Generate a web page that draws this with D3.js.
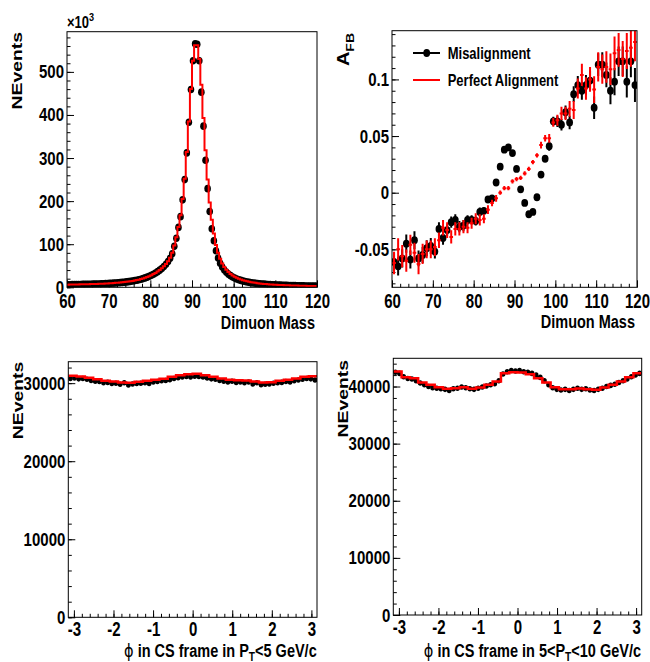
<!DOCTYPE html>
<html>
<head>
<meta charset="utf-8">
<script src="https://cdn.jsdelivr.net/npm/d3@7"></script>
<style>
body { margin: 0; background: #fff; }
text { font-family: "Liberation Sans", Arial, sans-serif; font-weight: bold; fill: #000; }
</style>
</head>
<body>
<script>
// ---- data ----

// dimuon mass, 0.5 GeV bins from 60 to 120 (NEvents in units of 10^3)
var massEdges = [60, 120];
var nEventsMis = [
  6.0, 6.1, 6.2, 6.3, 6.4, 6.5, 6.6, 6.7, 6.8, 6.9,
  7.0, 7.2, 7.3, 7.5, 7.6, 7.8, 8.0, 8.2, 8.5, 8.8,
  9.1, 9.4, 9.7, 10.1, 10.5, 10.9, 11.4, 11.9, 12.5, 13.1,
  13.8, 14.6, 15.5, 16.5, 17.6, 18.8, 20.2, 21.8, 23.6, 25.6,
  27.9, 30.4, 33.2, 36.3, 39.8, 43.7, 48.2, 53.5, 59.8, 67.5,
  78, 95, 114, 139, 164, 203, 250, 312, 383, 459,
  526, 565, 564, 526, 453, 374, 295, 229, 176, 136,
  108, 85, 68, 56, 47, 40, 35, 30.5, 27, 24,
  21.5, 19.4, 17.6, 16.0, 14.6, 13.4, 12.4, 11.5, 10.7, 10.0,
  9.4, 8.8, 8.3, 7.8, 7.4, 7.0, 6.6, 6.3, 6.0, 5.7,
  5.4, 5.2, 5.0, 4.8, 4.6, 4.4, 4.2, 4.1, 3.9, 3.8,
  3.6, 3.5, 3.4, 3.3, 3.2, 3.1, 3.0, 2.9, 2.8, 2.7
];
var nEventsPerf = [
  6.2, 6.3, 6.4, 6.5, 6.6, 6.7, 6.8, 6.9, 7.0, 7.1,
  7.2, 7.4, 7.5, 7.7, 7.8, 8.0, 8.2, 8.4, 8.7, 9.0,
  9.3, 9.6, 9.9, 10.3, 10.7, 11.1, 11.6, 12.1, 12.7, 13.3,
  14.0, 14.8, 15.7, 16.7, 17.8, 19.0, 20.4, 22.0, 23.8, 25.8,
  28.1, 30.6, 33.4, 36.5, 40.0, 44.0, 48.6, 54.0, 60.5, 68.5,
  80, 97, 116, 140, 167, 205, 252, 314, 385, 460,
  526, 562, 562, 530, 470, 393, 318, 250, 197, 157,
  125, 98, 80, 66, 55, 47, 40.5, 35.5, 31, 27.5,
  24.5, 22, 19.8, 18, 16.4, 15, 13.8, 12.7, 11.8, 11.0,
  10.3, 9.6, 9.0, 8.4, 7.9, 7.5, 7.1, 6.7, 6.4, 6.1,
  5.8, 5.5, 5.3, 5.1, 4.9, 4.7, 4.5, 4.3, 4.2, 4.0,
  3.9, 3.7, 3.6, 3.5, 3.4, 3.3, 3.2, 3.1, 3.0, 2.9
];

// A_FB vs dimuon mass, 1 GeV bins
var afbMis = [
  -0.061, -0.065, -0.058, -0.045, -0.059, -0.042, -0.058, -0.055, -0.049, -0.047,
  -0.052, -0.032, -0.040, -0.033, -0.026, -0.024, -0.030, -0.029, -0.024, -0.024,
  -0.025, -0.017, -0.016, -0.006, -0.005, 0.009, 0.023, 0.038, 0.040, 0.035,
  0.021, 0.003, -0.009, -0.019, -0.017, -0.004, 0.016, 0.030, 0.041, 0.063,
  0.063, 0.060, 0.071, 0.062, 0.087, 0.095, 0.090, 0.095, 0.099, 0.075,
  0.113, 0.113, 0.104, 0.090, 0.098, 0.116, 0.116, 0.098, 0.116, 0.095
];
var afbMisErr = [
  0.008, 0.008, 0.008, 0.008, 0.008, 0.008, 0.007, 0.007, 0.007, 0.007,
  0.006, 0.006, 0.006, 0.005, 0.005, 0.005, 0.005, 0.005, 0.004, 0.004,
  0.004, 0.004, 0.003, 0.003, 0.003, 0.002, 0.002, 0.001, 0.001, 0.001,
  0.001, 0.001, 0.001, 0.002, 0.002, 0.002, 0.003, 0.003, 0.004, 0.004,
  0.005, 0.005, 0.006, 0.006, 0.007, 0.008, 0.008, 0.009, 0.009, 0.010,
  0.010, 0.011, 0.011, 0.012, 0.012, 0.013, 0.013, 0.014, 0.014, 0.015
];
var afbPerf = [
  -0.062, -0.050, -0.056, -0.060, -0.046, -0.053, -0.063, -0.054, -0.050, -0.050,
  -0.048, -0.042, -0.031, -0.033, -0.039, -0.032, -0.032, -0.030, -0.031, -0.027,
  -0.023, -0.024, -0.023, -0.015, -0.009, -0.005, 0.000, 0.004, 0.004, 0.010,
  0.012, 0.013, 0.017, 0.021, 0.027, 0.033, 0.042, 0.048, 0.048, 0.062,
  0.064, 0.070, 0.070, 0.074, 0.073, 0.092, 0.104, 0.092, 0.100, 0.091,
  0.111, 0.109, 0.111, 0.109, 0.123, 0.126, 0.118, 0.125, 0.128, 0.133
];
var afbPerfErr = [
  0.009, 0.009, 0.009, 0.009, 0.008, 0.008, 0.008, 0.008, 0.007, 0.007,
  0.007, 0.006, 0.006, 0.006, 0.005, 0.005, 0.005, 0.005, 0.004, 0.004,
  0.004, 0.004, 0.003, 0.003, 0.002, 0.002, 0.001, 0.001, 0.001, 0.001,
  0.001, 0.001, 0.001, 0.001, 0.001, 0.001, 0.002, 0.002, 0.003, 0.003,
  0.004, 0.005, 0.005, 0.006, 0.007, 0.008, 0.009, 0.009, 0.010, 0.011,
  0.012, 0.012, 0.013, 0.013, 0.014, 0.014, 0.015, 0.015, 0.016, 0.016
];

// phi in CS frame, P_T < 5 GeV/c
var phiPerfLow = [
  30935, 30850, 30680, 30510, 30300, 30210, 30085, 30040, 30170, 30300,
  30425, 30550, 30810, 31020, 31150, 31190, 31020, 30810, 30600, 30425,
  30380, 30340, 30210, 30085, 30130, 30300, 30425, 30600, 30810, 30890
];
var phiMisLow = [
  30600, 30650, 30550, 30600, 30500, 30350, 30250, 30200, 30050, 30100,
  29950, 30000, 29850, 30050, 29750, 29900, 29950, 30000, 30050, 29950,
  30150, 30200, 30300, 30350, 30450, 30600, 30700, 30800, 30850, 30800,
  30900, 30850, 30800, 30650, 30550, 30500, 30350, 30250, 30150, 30250,
  30100, 30150, 30050, 30150, 29900, 30050, 29800, 29850, 29900, 30000,
  30050, 30100, 30200, 30150, 30300, 30400, 30500, 30600, 30550, 30400
];

// phi in CS frame, 5 < P_T < 10 GeV/c
var phiPerfMid = [
  42630, 41640, 41460, 40700, 40290, 39880, 39590, 39710, 39880, 39590,
  39820, 40290, 40880, 42340, 42510, 42450, 42160, 41460, 40700, 39880,
  39530, 39530, 39650, 39530, 39420, 39820, 40290, 40880, 41640, 42340
];
var phiMisMid = [
  42500, 42300, 41700, 41400, 41300, 41000, 40600, 40300, 40000, 39800,
  39700, 39600, 39500, 39300, 39600, 39700, 39900, 39800, 39600, 39500,
  39700, 39900, 40100, 40300, 40500, 41000, 42200, 42600, 42800, 42700,
  42800, 42600, 42500, 42300, 42000, 41600, 41000, 40300, 39800, 39500,
  39400, 39500, 39300, 39500, 39700, 39500, 39600, 39400, 39300, 39500,
  39700, 40000, 40200, 40400, 40700, 41000, 41300, 41700, 42000, 42300
];

var legendLabels = ['Misalignment', 'Perfect Alignment'];

// ---- drawing ----
var SY = 1.25;   // the picture's text is a bit taller than wide
var SYX = 1.38;  // x tick labels are stretched a little more
var W = 650, H = 662;
var svg = d3.select('body').append('svg').attr('width', W).attr('height', H);

// ROOT style numbers: plain hyphen for minus
var hy = function(f) { return function(d) { return f(d).replace('\u2212', '-'); }; };

function binCenters(lo, hi, n) {
  var w = (hi - lo) / n;
  return d3.range(n).map(function(i) { return lo + w * (i + 0.5); });
}

function txt(g, x, y, str, size, anchor, rot) {
  var t = g.append('text')
    .attr('transform', 'translate(' + x + ',' + y + ') scale(1,' + SY + ')' + (rot ? ' rotate(' + rot + ')' : ''))
    .attr('font-size', size)
    .attr('text-anchor', anchor || 'start');
  if (typeof str === 'string') {
    t.text(str);
  } else {
    str.forEach(function(p) {
      var s = t.append('tspan').text(p.t);
      if (p.sub) s.attr('font-size', size * 0.7).attr('dy', p.sub);
      if (p.sup) s.attr('font-size', size * 0.7).attr('dy', -size * 0.45);
      if (p.back) s.attr('dy', p.back);
      if (p.font) s.attr('font-family', p.font).attr('font-weight', 'normal');
    });
  }
  return t;
}

function makePanel(box, xDom, yDom, id, xMinor, yMajor, yMinor, xPad, yFmt) {
  var x = d3.scaleLinear().domain(xDom).range([box.x0, box.x1]);
  var y = d3.scaleLinear().domain(yDom).range([box.y1, box.y0]);
  var g = svg.append('g');
  svg.append('clipPath').attr('id', id).append('rect')
    .attr('x', box.x0).attr('y', box.y0).attr('width', box.x1 - box.x0).attr('height', box.y1 - box.y0);

  var xa = g.append('g').attr('transform', 'translate(0,' + box.y1 + ')');
  xa.call(d3.axisBottom(x).tickValues(x.ticks(xMinor)).tickSize(-3.5).tickFormat(''));
  var xm = xa.append('g').call(d3.axisBottom(x).ticks(7).tickSize(-7).tickPadding(xPad).tickFormat(hy(d3.format('d'))));
  var ya = g.append('g').attr('transform', 'translate(' + box.x0 + ',0)');
  ya.call(d3.axisLeft(y).tickValues(y.ticks(yMinor)).tickSize(-3.5).tickFormat(''));
  var ym = ya.append('g').call(d3.axisLeft(y).ticks(yMajor).tickSize(-7).tickPadding(3).tickFormat(hy(yFmt || d3.format('d'))));
  g.selectAll('.domain').remove();
  g.selectAll('.tick line').attr('stroke', '#000').attr('stroke-width', 1);
  g.selectAll('.tick text')
    .attr('font-size', 15)
    .attr('font-family', '"Liberation Sans", Arial, sans-serif');
  ym.selectAll('.tick text').attr('transform', 'scale(1,' + SY + ')');
  xm.selectAll('.tick text').attr('transform', 'scale(1,' + SYX + ')');

  var plot = g.append('g').attr('clip-path', 'url(#' + id + ')');
  g.append('rect')
    .attr('x', box.x0).attr('y', box.y0).attr('width', box.x1 - box.x0).attr('height', box.y1 - box.y0)
    .attr('fill', 'none').attr('stroke', '#000').attr('stroke-width', 1);
  return { x: x, y: y, g: g, plot: plot };
}

function drawHist(p, lo, hi, vals, color, width) {
  var w = (hi - lo) / vals.length;
  var pts = vals.map(function(v, i) { return [lo + i * w, v]; });
  pts.push([hi, vals[vals.length - 1]]);
  p.plot.append('path')
    .attr('d', d3.line().x(function(d) { return p.x(d[0]); }).y(function(d) { return p.y(d[1]); }).curve(d3.curveStepAfter)(pts))
    .attr('fill', 'none').attr('stroke', color).attr('stroke-width', width);
}

function drawDots(p, centers, vals, rx) {
  p.plot.selectAll(null).data(vals).enter().append('ellipse')
    .attr('cx', function(d, i) { return p.x(centers[i]); })
    .attr('cy', function(d) { return p.y(d); })
    .attr('rx', rx).attr('ry', rx * 1.15)
    .attr('fill', '#000');
}

// panel 1: dimuon mass
var p1 = makePanel({ x0: 67, x1: 317, y0: 31.7, y1: 287.3 }, massEdges,
  [0, 1.05 * d3.max(nEventsMis.concat(nEventsPerf))], 'c1', 30, 6, 30, 4);
drawDots(p1, binCenters(60, 120, nEventsMis.length), nEventsMis, 3.3);
drawHist(p1, 60, 120, nEventsPerf, '#ff0000', 2);
txt(svg, 315, 329, 'Dimuon Mass', 14.5, 'end');
txt(svg, 22, 32, 'NEvents', 15.5, 'end', -90);
txt(svg, 67, 28, [{ t: '\u00d710' }, { t: '3', sup: true }], 13, 'start');

// panel 2: A_FB
var p2 = makePanel({ x0: 392, x1: 637, y0: 30.7, y1: 287.3 }, massEdges, [-0.0835, 0.143], 'c2', 30, 6, 22, 4,
  function(d) { return d === 0 ? '0' : String(+d.toFixed(2)); });
var afbCenters = binCenters(60, 120, afbMis.length);
p2.plot.selectAll(null).data(afbMis).enter().append('line')
  .attr('x1', function(d, i) { return p2.x(afbCenters[i]); })
  .attr('x2', function(d, i) { return p2.x(afbCenters[i]); })
  .attr('y1', function(d, i) { return p2.y(d - afbMisErr[i]); })
  .attr('y2', function(d, i) { return p2.y(d + afbMisErr[i]); })
  .attr('stroke', '#000').attr('stroke-width', 2);
drawDots(p2, afbCenters, afbMis, 3.4);
p2.plot.selectAll(null).data(afbPerf).enter().append('line')
  .attr('x1', function(d, i) { return p2.x(afbCenters[i]); })
  .attr('x2', function(d, i) { return p2.x(afbCenters[i]); })
  .attr('y1', function(d, i) { return p2.y(d - afbPerfErr[i]) + 1; })
  .attr('y2', function(d, i) { return p2.y(d + afbPerfErr[i]) - 1; })
  .attr('stroke', '#ff0000').attr('stroke-width', 2);
p2.plot.selectAll(null).data(afbPerf).enter().append('line')
  .attr('x1', function(d, i) { return p2.x(afbCenters[i] - 0.45); })
  .attr('x2', function(d, i) { return p2.x(afbCenters[i] + 0.45); })
  .attr('y1', function(d) { return p2.y(d); })
  .attr('y2', function(d) { return p2.y(d); })
  .attr('stroke', '#ff0000').attr('stroke-width', 2);
txt(svg, 635, 328, 'Dimuon Mass', 14.5, 'end');
txt(svg, 349, 33, [{ t: 'A' }, { t: 'FB', sub: 4.5 }], 16, 'end', -90);

// legend
var lg = svg.append('g');
lg.append('line').attr('x1', 413).attr('x2', 440).attr('y1', 53).attr('y2', 53).attr('stroke', '#000').attr('stroke-width', 2);
lg.append('ellipse').attr('cx', 426.7).attr('cy', 53).attr('rx', 3.4).attr('ry', 3.9).attr('fill', '#000');
lg.append('line').attr('x1', 413).attr('x2', 440).attr('y1', 80).attr('y2', 80).attr('stroke', '#ff0000').attr('stroke-width', 2);
txt(lg, 447.7, 58.5, legendLabels[0], 13, 'start');
txt(lg, 447.7, 85.5, legendLabels[1], 13, 'start');

// panel 3: phi, P_T < 5
var phiDom = [-Math.PI, Math.PI];
var p3 = makePanel({ x0: 68.3, x1: 317, y0: 361.7, y1: 617.3 }, phiDom,
  [0, 1.05 * d3.max(phiPerfLow.concat(phiMisLow))], 'c3', 30, 4, 15, 3);
drawDots(p3, binCenters(-Math.PI, Math.PI, phiMisLow.length), phiMisLow, 2.4);
drawHist(p3, -Math.PI, Math.PI, phiPerfLow, '#ff0000', 2.5);
txt(svg, 316.7, 657, [{ t: '\u03d5', font: '"DejaVu Sans"' }, { t: ' in CS frame in P' }, { t: 'T', sub: 3 }, { t: '<5 GeV/c', back: -3 }], 14.5, 'end');
txt(svg, 23, 361.7, 'NEvents', 15.5, 'end', -90);

// panel 4: phi, 5 < P_T < 10
var p4 = makePanel({ x0: 393.3, x1: 641.7, y0: 358.3, y1: 615 }, phiDom,
  [0, 1.05 * d3.max(phiPerfMid.concat(phiMisMid))], 'c4', 30, 5, 22, 3);
drawDots(p4, binCenters(-Math.PI, Math.PI, phiMisMid.length), phiMisMid, 2.4);
drawHist(p4, -Math.PI, Math.PI, phiPerfMid, '#ff0000', 2.5);
txt(svg, 641, 657, [{ t: '\u03d5', font: '"DejaVu Sans"' }, { t: ' in CS frame in 5<P' }, { t: 'T', sub: 3 }, { t: '<10 GeV/c', back: -3 }], 14.5, 'end');
txt(svg, 348, 360, 'NEvents', 15.5, 'end', -90);
</script>
</body>
</html>
